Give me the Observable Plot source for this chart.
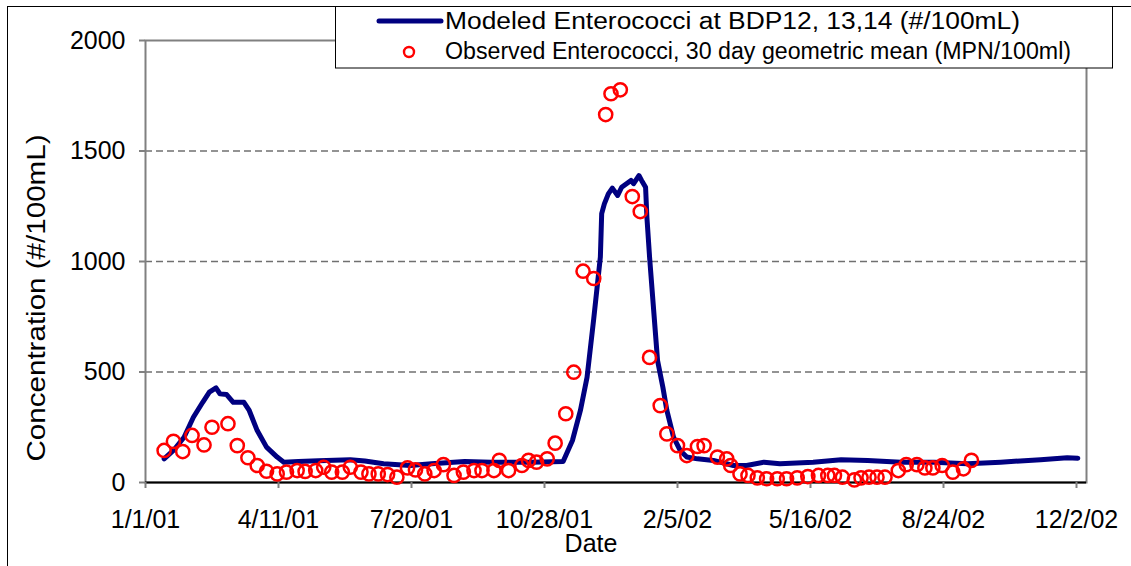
<!DOCTYPE html>
<html>
<head>
<meta charset="utf-8">
<script src="https://cdn.jsdelivr.net/npm/d3@7"></script>
<script src="https://cdn.jsdelivr.net/npm/@observablehq/plot@0.6"></script>
<style>
  html, body { margin: 0; padding: 0; background: #fff; }
  #wrap { position: relative; width: 1131px; height: 566px; overflow: hidden;
          font-family: "Liberation Sans", Arial, Helvetica, sans-serif; color: #000; }
  #wrap > svg { position: absolute; left: 0; top: 0; }
  #overlay { position: absolute; left: 0; top: 0; pointer-events: none; }
</style>
</head>
<body>
<div id="wrap"></div>
<script>
// ---- Data ----
const modeledDates = [
  "2001-01-15","2001-01-22","2001-01-30","2001-02-06","2001-02-13","2001-02-18","2001-02-23","2001-02-26",
  "2001-03-03","2001-03-08","2001-03-16","2001-03-20","2001-03-26","2001-04-02","2001-04-10","2001-04-15",
  "2001-04-26","2001-05-11","2001-06-04","2001-06-15","2001-06-29","2001-07-19","2001-08-04","2001-08-29",
  "2001-09-18","2001-10-18","2001-11-11","2001-11-18","2001-11-24","2001-11-29","2001-12-04","2001-12-09",
  "2001-12-10","2001-12-12","2001-12-15","2001-12-18","2001-12-22","2001-12-25","2002-01-01","2002-01-03",
  "2002-01-07","2002-01-09","2002-01-12","2002-01-13","2002-01-15","2002-01-21","2002-01-25","2002-01-28",
  "2002-02-02","2002-02-07","2002-02-12","2002-02-20","2002-03-04","2002-03-19","2002-03-29","2002-04-11",
  "2002-04-23","2002-05-18","2002-06-08","2002-06-28","2002-07-23","2002-08-17","2002-09-11","2002-10-06",
  "2002-11-05","2002-11-25","2002-12-03"
];
const modeledValues = [
  107, 145, 205, 295, 363, 409, 428, 401,
  398, 363, 363, 326, 235, 160, 115, 92,
  95, 98, 103, 97, 85, 77, 85, 95,
  92, 92, 95, 190, 326, 476, 740, 1020,
  1217, 1261, 1306, 1332, 1299, 1336, 1367, 1352,
  1389, 1367, 1336, 1200, 1020, 552, 431, 326,
  205, 145, 115, 107, 100, 77, 77, 92,
  85, 92, 103, 100, 92, 92, 85, 92,
  103, 112, 110
];

const observedDates = [
  "2001-01-15","2001-01-22","2001-01-29","2001-02-05","2001-02-14","2001-02-20","2001-03-04","2001-03-11",
  "2001-03-19","2001-03-26","2001-04-02","2001-04-10","2001-04-17","2001-04-25","2001-05-01","2001-05-09",
  "2001-05-15","2001-05-21","2001-05-29","2001-06-04","2001-06-12","2001-06-18","2001-06-25","2001-07-02",
  "2001-07-09","2001-07-17","2001-07-23","2001-07-30","2001-08-06","2001-08-13","2001-08-21","2001-08-28",
  "2001-09-05","2001-09-11","2001-09-20","2001-09-24","2001-10-01","2001-10-11","2001-10-16","2001-10-22",
  "2001-10-30","2001-11-05","2001-11-13","2001-11-19","2001-11-26","2001-12-04","2001-12-13","2001-12-17",
  "2001-12-24","2002-01-02","2002-01-08","2002-01-15","2002-01-23","2002-01-28","2002-02-05","2002-02-12",
  "2002-02-20","2002-02-25","2002-03-07","2002-03-14","2002-03-17","2002-03-24","2002-03-30","2002-04-06",
  "2002-04-13","2002-04-21","2002-04-28","2002-05-06","2002-05-14","2002-05-22","2002-05-29","2002-06-03",
  "2002-06-09","2002-06-18","2002-06-23","2002-06-29","2002-07-05","2002-07-11","2002-07-21","2002-07-27",
  "2002-08-04","2002-08-10","2002-08-16","2002-08-23","2002-08-31","2002-09-08","2002-09-14"
];
const observedValues = [
  145, 186, 140, 213, 170, 250, 266, 167,
  112, 77, 51, 39, 47, 54, 50, 54,
  69, 47, 47, 69, 47, 39, 39, 36,
  24, 66, 57, 39, 54, 81, 32, 47,
  54, 54, 54, 100, 54, 77, 100, 92,
  107, 178, 311, 499, 956, 923, 1665, 1759,
  1777, 1294, 1226, 566, 348, 220, 167, 122,
  163, 167, 115, 107, 77, 39, 32, 21,
  17, 17, 17, 21, 27, 32, 32, 32,
  24, 12, 21, 24, 24, 24, 54, 81,
  81, 66, 66, 77, 47, 62, 100
];

const xTickDates  = ["2001-01-01","2001-04-11","2001-07-20","2001-10-28","2002-02-05","2002-05-16","2002-08-24","2002-12-02"];
const xTickLabels = ["1/1/01","4/11/01","7/20/01","10/28/01","2/5/02","5/16/02","8/24/02","12/2/02"];
const yTicks = [0, 500, 1000, 1500, 2000];
const gridValues = [500, 1000, 1500];

const seriesNames = [
  "Modeled Enterococci at BDP12, 13,14 (#/100mL)",
  "Observed Enterococci, 30 day geometric mean (MPN/100ml)"
];
const xTitle = "Date";
const yTitle = "Concentration (#/100mL)";

// ---- Build tables ----
const parse = s => new Date(s + "T00:00:00Z");
const modeled = modeledDates.map((d, i) => ({date: parse(d), value: modeledValues[i]}));
const observed = observedDates.map((d, i) => ({date: parse(d), value: observedValues[i]}));
const xTicks = xTickDates.map(parse);
const labelFor = new Map(xTicks.map((d, i) => [+d, xTickLabels[i]]));

const FONT = '"Liberation Sans", Arial, Helvetica, sans-serif';

const chart = Plot.plot({
  width: 1131,
  height: 566,
  marginLeft: 145,
  marginRight: 45,
  marginTop: 40,
  marginBottom: 84,
  style: {fontFamily: FONT, fontSize: "25px", color: "#000", background: "transparent", overflow: "visible"},
  x: {type: "utc", domain: [xTicks[0], xTicks[xTicks.length - 1]], range: [145, 1076]},
  y: {domain: [0, 2000], range: [482, 40]},
  marks: [
    Plot.ruleY(gridValues, {stroke: "#707070", strokeWidth: 1.3, strokeDasharray: "7,4"}),
    Plot.frame({stroke: "#808080", strokeWidth: 2}),
    Plot.ruleY([0], {stroke: "#000", strokeWidth: 2}),
    Plot.axisY({ticks: yTicks, tickFormat: d3.format("d"), tickSize: 6, tickPadding: 14,
                stroke: "#808080", strokeWidth: 2, fill: "#000", label: null, fontSize: 25}),
    Plot.axisX({ticks: xTicks, tickFormat: d => labelFor.get(+d), tickSize: 6, tickPadding: 22,
                stroke: "#808080", strokeWidth: 2, fill: "#000", label: null, fontSize: 25}),
    Plot.line(modeled, {x: "date", y: "value", stroke: "#000080", strokeWidth: 5,
                        strokeLinejoin: "round", strokeLinecap: "round"}),
    Plot.dot(observed, {x: "date", y: "value", r: 6.6, stroke: "#ff0000", strokeWidth: 2.5, fill: "none"})
  ]
});

const wrap = document.getElementById("wrap");
wrap.appendChild(chart);

// ---- Overlay: titles, legend, outer border ----
const ov = d3.select(wrap).append("svg")
  .attr("id", "overlay").attr("width", 1131).attr("height", 566)
  .style("font-family", FONT);

// outer chart-area border (left and top visible)
ov.append("rect").attr("x", 7.5).attr("y", 6.5).attr("width", 1200).attr("height", 700)
  .attr("fill", "none").attr("stroke", "#000").attr("stroke-width", 1);

// y title
ov.append("text")
  .attr("transform", "translate(45,298) rotate(-90)")
  .attr("text-anchor", "middle")
  .attr("font-size", 26)
  .attr("textLength", 327).attr("lengthAdjust", "spacingAndGlyphs")
  .text(yTitle);

// x title
ov.append("text")
  .attr("x", 591).attr("y", 552)
  .attr("text-anchor", "middle")
  .attr("font-size", 25)
  .text(xTitle);

// legend
const lg = ov.append("g");
lg.append("rect").attr("x", 335.5).attr("y", 6.5).attr("width", 777).attr("height", 61.5)
  .attr("fill", "#fff").attr("stroke", "#000").attr("stroke-width", 1);
lg.append("line").attr("x1", 379).attr("x2", 441).attr("y1", 21).attr("y2", 21)
  .attr("stroke", "#000080").attr("stroke-width", 5).attr("stroke-linecap", "round");
lg.append("circle").attr("cx", 409).attr("cy", 52).attr("r", 5)
  .attr("fill", "none").attr("stroke", "#ff0000").attr("stroke-width", 2.4);
lg.append("text").attr("x", 445).attr("y", 29).attr("font-size", 23)
  .attr("textLength", 575).attr("lengthAdjust", "spacingAndGlyphs").text(seriesNames[0]);
lg.append("text").attr("x", 445).attr("y", 59).attr("font-size", 23)
  .attr("textLength", 626).attr("lengthAdjust", "spacingAndGlyphs").text(seriesNames[1]);
</script>
</body>
</html>
